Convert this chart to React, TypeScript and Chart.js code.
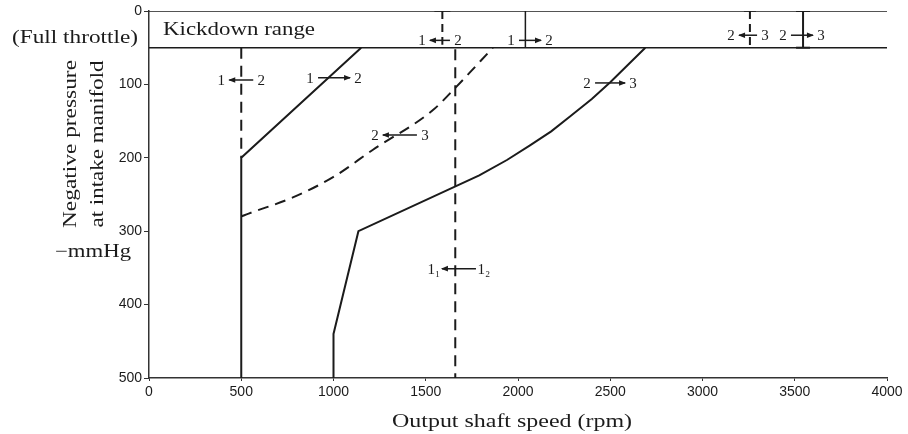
import React, { useEffect, useRef } from "react";
import { Chart, registerables } from "chart.js";
Chart.register(...registerables);

// ---- axis ticks ----
const xTickValues = [0, 500, 1000, 1500, 2000, 2500, 3000, 3500, 4000];
const yTickValues = [0, 100, 200, 300, 400, 500];

// ---- shift lines (x = output shaft speed rpm, y = negative pressure mmHg) ----
const upshift12X = [500, 500, 1150];
const upshift12Y = [500, 200, 50];
const downshift21X = [500, 500];
const downshift21Y = [50, 200];
const downshift32X = [500, 540, 780, 1000, 1214, 1539, 1659, 1864];
const downshift32Y = [280, 276, 254, 226, 189, 135, 105, 50];
const upshift23X = [1000, 1000, 1135, 1790, 1940, 2065, 2180, 2280, 2400, 2500, 2690];
const upshift23Y = [500, 440, 300, 224, 203, 183, 164, 144, 120, 97, 50];
const downshift1112X = [1660, 1660];
const downshift1112Y = [52, 500];
const fullThrottleX = [0, 4000];
const fullThrottleY = [50, 50];
const topLineX = [0, 4000];
const topLineY = [0, 0];
const kick21X = [1590, 1590];
const kick21Y = [0, 46];
const kick12X = [2040, 2040];
const kick12Y = [0, 50];
const kick32X = [3257, 3257];
const kick32Y = [0, 50];
const kick23X = [3545, 3545];
const kick23Y = [0, 50];

// ---- shift arrow labels ----
const shiftLabelLeft = ["1", "1", "2", "2", "1\u2081", "1", "1", "2", "2"];
const shiftLabelRight = ["2", "2", "3", "3", "1\u2082", "2", "2", "3", "3"];
const shiftLabelDir = ["left", "right", "left", "right", "left", "left", "right", "left", "right"];
const shiftLabelX = [500, 1003, 1360, 2499, 1680, 1577, 2065, 3247, 3539];
const shiftLabelY = [94, 91, 169, 98, 351, 40, 40, 33, 33];

const INK = "#1b1b1b";
const ARROW_HALF = [12, 16, 17, 15, 17, 10, 11, 9, 11];

function pts(xs: number[], ys: number[]) {
  return xs.map((v, i) => ({ x: v, y: ys[i] }));
}

function fitText(ctx: CanvasRenderingContext2D, text: string, x: number, y: number, w: number, align: CanvasTextAlign) {
  const m = ctx.measureText(text).width || 1;
  const s = w / m;
  ctx.save();
  ctx.translate(x, y);
  ctx.scale(s, 1);
  ctx.textAlign = align;
  ctx.fillText(text, 0, 0);
  ctx.restore();
}

const annotPlugin = {
  id: "annot",
  afterDatasetsDraw(chart: any) {
    const { ctx } = chart;
    const xs = chart.scales.x;
    const ys = chart.scales.y;
    ctx.save();
    ctx.fillStyle = INK;
    ctx.strokeStyle = INK;
    ctx.font = '15px "Liberation Serif", "DejaVu Serif", serif';
    ctx.textBaseline = "middle";
    ctx.textAlign = "center";
    shiftLabelX.forEach((v, i) => {
      const cx = xs.getPixelForValue(v);
      const cy = ys.getPixelForValue(shiftLabelY[i]);
      const h = ARROW_HALF[i];
      ctx.lineWidth = 1.5;
      ctx.beginPath();
      ctx.moveTo(cx - h, cy);
      ctx.lineTo(cx + h, cy);
      ctx.stroke();
      const dir = shiftLabelDir[i] === "left" ? -1 : 1;
      const tip = cx + dir * h;
      ctx.beginPath();
      ctx.moveTo(tip + dir * 1, cy);
      ctx.lineTo(tip - dir * 6, cy - 2.8);
      ctx.lineTo(tip - dir * 6, cy + 2.8);
      ctx.closePath();
      ctx.fill();
      ctx.fillText(shiftLabelLeft[i], cx - h - 8, cy + 1);
      ctx.fillText(shiftLabelRight[i], cx + h + 8, cy + 1);
    });

    // in-plot texts
    ctx.textBaseline = "alphabetic";
    ctx.font = '18px "Liberation Serif", "DejaVu Serif", serif';
    const kx = xs.getPixelForValue(76);
    const ky = ys.getPixelForValue(33);
    fitText(ctx, "Kickdown range", kx, ky, 152, "left");
    ctx.restore();
  },
  afterDraw(chart: any) {
    const { ctx } = chart;
    const ys = chart.scales.y;
    ctx.save();
    ctx.fillStyle = INK;
    ctx.textBaseline = "alphabetic";
    ctx.font = '18px "Liberation Serif", "DejaVu Serif", serif';
    // (Full throttle)
    const fy = ys.getPixelForValue(50);
    fitText(ctx, "(Full throttle)", 12, fy - 5, 126, "left");
    // y-axis title, rotated
    ctx.font = '19px "Liberation Serif", "DejaVu Serif", serif';
    ctx.save();
    ctx.translate(76, 144);
    ctx.rotate(-Math.PI / 2);
    fitText(ctx, "Negative pressure", 0, 0, 168, "center");
    ctx.restore();
    ctx.save();
    ctx.translate(103, 144);
    ctx.rotate(-Math.PI / 2);
    fitText(ctx, "at intake manifold", 0, 0, 167, "center");
    ctx.restore();
    ctx.font = '18px "Liberation Serif", "DejaVu Serif", serif';
    fitText(ctx, "\u2212mmHg", 55, 257, 76, "left");
    // x-axis title
    fitText(ctx, "Output shaft speed (rpm)", 512, 427, 240, "center");
    ctx.restore();
  },
};

export default function App() {
  const ref = useRef<HTMLCanvasElement | null>(null);
  useEffect(() => {
    if (!ref.current) return;
    const solid = (xs: number[], ys: number[], w = 2, extra: any = {}) => ({
      data: pts(xs, ys),
      showLine: true,
      borderColor: INK,
      backgroundColor: INK,
      borderWidth: w,
      pointRadius: 0,
      tension: 0,
      ...extra,
    });
    const dashed = (xs: number[], ys: number[], extra: any = {}) =>
      solid(xs, ys, 2, { borderDash: [11, 7], ...extra });
    const chart = new Chart(ref.current, {
      type: "scatter",
      data: {
        datasets: [
          solid(topLineX, topLineY, 1.5),
          solid(fullThrottleX, fullThrottleY, 1.5),
          solid(upshift12X, upshift12Y, 2),
          dashed(downshift21X, downshift21Y),
          dashed(downshift32X, downshift32Y, { cubicInterpolationMode: "monotone" }),
          solid(upshift23X, upshift23Y, 2),
          dashed(downshift1112X, downshift1112Y),
          dashed(kick21X, kick21Y, { pointStyle: "line", pointRadius: [8, 0], pointBorderWidth: 1.5, borderDash: [8, 5] }),
          solid(kick12X, kick12Y, 1.5),
          dashed(kick32X, kick32Y, { pointStyle: "line", pointRadius: [6, 0], pointBorderWidth: 1.5, borderDash: [8, 5] }),
          solid(kick23X, kick23Y, 2, { pointStyle: "line", pointRadius: [7, 7], pointBorderWidth: 2 }),
        ] as any,
      },
      options: {
        animation: false,
        responsive: false,
        devicePixelRatio: 1,
        events: [],
        layout: { padding: { left: 0, right: 21, top: 11, bottom: 0 } },
        plugins: { legend: { display: false }, tooltip: { enabled: false } },
        scales: {
          x: {
            type: "linear",
            min: 0,
            max: 4000,
            afterBuildTicks: (s: any) => {
              s.ticks = xTickValues.map((v) => ({ value: v }));
            },
            afterFit: (s: any) => {
              s.height = 56;
            },
            border: { display: true, color: "#333", width: 1.5 },
            grid: { display: true, drawOnChartArea: false, drawTicks: true, tickLength: 3, color: "#333" },
            ticks: {
              color: INK,
              padding: 3,
              maxRotation: 0,
              font: { family: '"Liberation Sans", Arial, sans-serif', size: 14 },
              callback: (v: any) => String(v),
            },
          },
          y: {
            type: "linear",
            min: 0,
            max: 500,
            reverse: true,
            afterBuildTicks: (s: any) => {
              s.ticks = yTickValues.map((v) => ({ value: v }));
            },
            afterFit: (s: any) => {
              s.width = 149;
            },
            border: { display: true, color: "#333", width: 1.5 },
            grid: { display: true, drawOnChartArea: false, drawTicks: true, tickLength: 5, color: "#333" },
            ticks: {
              color: INK,
              padding: 2,
              font: { family: '"Liberation Sans", Arial, sans-serif', size: 14 },
              callback: (v: any) => String(v),
            },
          },
        },
      },
      plugins: [annotPlugin],
    });
    return () => chart.destroy();
  }, []);
  return (
    <div style={{ position: "fixed", left: 0, top: 0, width: 908, height: 434, background: "#fff" }}>
      <canvas ref={ref} width={908} height={434} style={{ display: "block" }} />
    </div>
  );
}
